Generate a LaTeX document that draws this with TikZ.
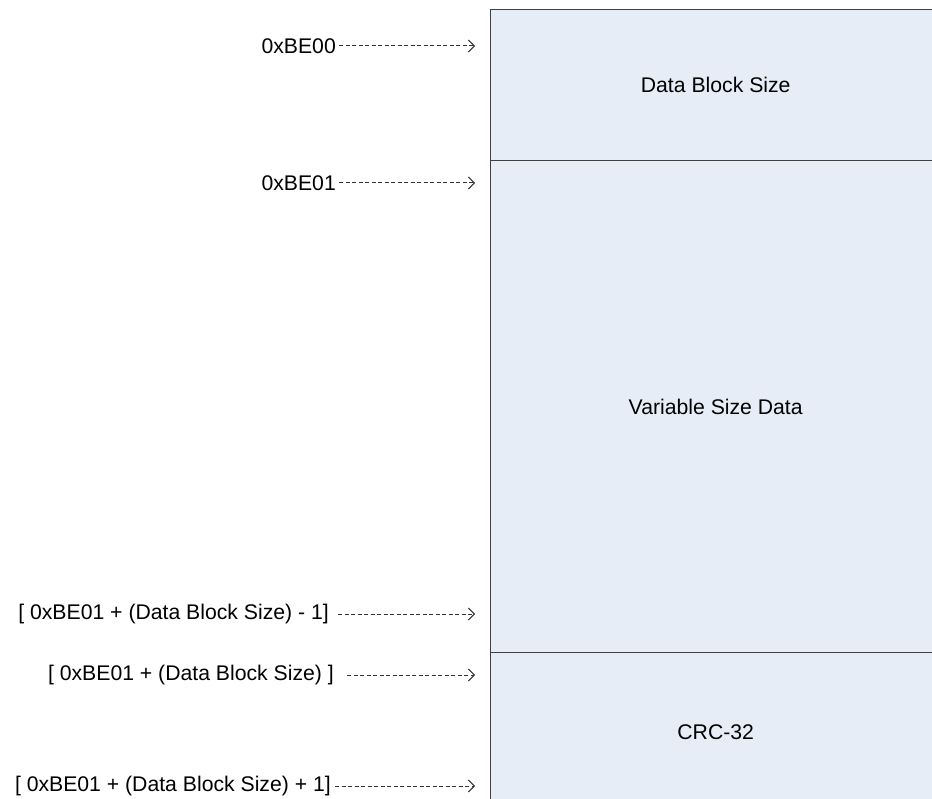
\documentclass[tikz,border=0pt]{standalone}
\usepackage{fontspec}
\setmainfont{Liberation Sans}
\usepackage{xcolor}
\usetikzlibrary{arrows.meta, positioning}
\definecolor{memfill}{HTML}{E7EDF7}
\definecolor{memline}{HTML}{404040}

\begin{document}
\begin{tikzpicture}[
  x=1pt, y=-1pt,
  every node/.style={font=\fontsize{21.2}{25}\selectfont, inner sep=0pt},
  section/.style={draw=memline, line width=1.4pt, fill=memfill,
                  minimum width=450pt, anchor=north west},
  addr/.style={anchor=east},
  arr/.style={dash pattern=on 4pt off 2.5pt, line width=1pt, black!80,
              -{Straight Barb[length=6pt, width=12pt, line width=1pt]}}
]
\clip (0,0) rectangle (932,799);

% Memory sections
\node[section, minimum height=151pt] (DBS) at (490,9) {Data Block Size};
\node[section, minimum height=492pt] (VSD) at (490,160) {Variable Size Data};
\node[section, minimum height=158pt] (CRC) at (490,652) {CRC-32};

% Address labels
\node[addr] (A0) at (336,46)  {0xBE00};
\node[addr] (A1) at (336,183) {0xBE01};
\node[addr] (A2) at (329,614) {[ 0xBE01 + (Data Block Size) - 1]};
\node[addr] (A3) at (334,675) {[ 0xBE01 + (Data Block Size) ]};
\node[addr] (A4) at (331,786) {[ 0xBE01 + (Data Block Size) + 1]};

% Arrow tips
\coordinate (T0) at (475,46);
\coordinate (T1) at (475,183);
\coordinate (T2) at (475,614);
\coordinate (T3) at (475,675);
\coordinate (T4) at (475,786);

% Pointers
\draw[arr] ([xshift=3pt]A0.east) -- (T0);
\draw[arr] ([xshift=3pt]A1.east) -- (T1);
\draw[arr] ([xshift=9pt]A2.east) -- (T2);
\draw[arr] ([xshift=13pt]A3.east) -- (T3);
\draw[arr] ([xshift=4pt]A4.east) -- (T4);

\end{tikzpicture}
\end{document}
